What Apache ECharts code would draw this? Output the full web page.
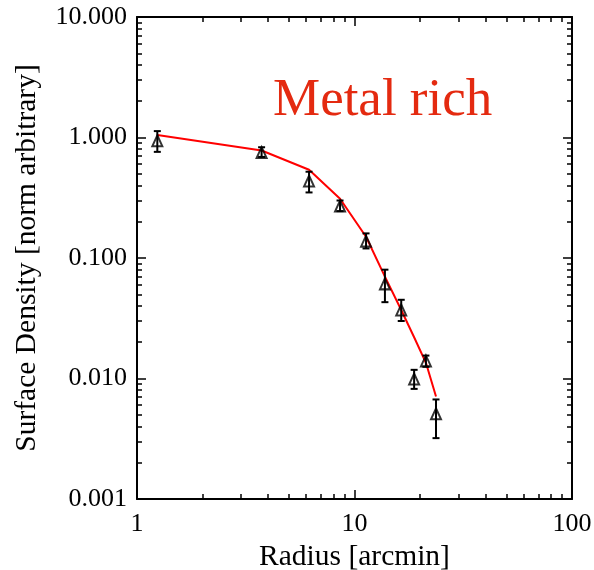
<!DOCTYPE html>
<html>
<head>
<meta charset="utf-8">
<script src="https://cdn.jsdelivr.net/npm/echarts@6/dist/echarts.min.js"></script>
<style>
html,body{margin:0;padding:0;background:#fff;}
#chart{width:594px;height:570px;}
</style>
</head>
<body>
<div id="chart"></div>
<script>
// Data
const radius   = [1.24, 3.74, 6.18, 8.58, 11.3, 13.8, 16.4, 18.8, 21.3, 23.7];
const density  = [0.94, 0.75, 0.435, 0.27, 0.138, 0.061, 0.037, 0.0099, 0.014, 0.0051];
const errLow   = [0.76, 0.69, 0.35, 0.245, 0.12, 0.043, 0.030, 0.0082, 0.0125, 0.0032];
const errHigh  = [1.13, 0.83, 0.52, 0.30, 0.16, 0.080, 0.045, 0.0118, 0.0155, 0.0067];
const model    = [1.05, 0.78, 0.54, 0.31, 0.15, 0.070, 0.037, 0.022, 0.0135, 0.0071];
const xTicks = [1, 10, 100];
const yTicks = [0.001, 0.01, 0.1, 1, 10];

const FONT = 'Liberation Serif';
const chart = echarts.init(document.getElementById('chart'), null, {renderer: 'canvas'});

function xAxisDef(pos, showLabel) {
  return {
    type: 'log', logBase: 10, min: xTicks[0], max: xTicks[xTicks.length - 1],
    position: pos,
    axisLine: {show: true, onZero: false, lineStyle: {color: '#000', width: 2}},
    axisTick: {show: true, inside: true, length: 9, lineStyle: {color: '#000', width: 1.5}},
    minorTick: {show: true, splitNumber: 9, length: 5, lineStyle: {color: '#000', width: 1.5}},
    splitLine: {show: false}, minorSplitLine: {show: false},
    axisLabel: {show: showLabel, color: '#000', fontFamily: FONT, fontSize: 26, margin: 12,
      formatter: v => String(v)},
    name: showLabel ? 'Radius [arcmin]' : '',
    nameLocation: 'middle', nameGap: 32,
    nameTextStyle: {color: '#000', fontFamily: FONT, fontSize: 29.5}
  };
}
function yAxisDef(pos, showLabel) {
  return {
    type: 'log', logBase: 10, min: yTicks[0], max: yTicks[yTicks.length - 1],
    position: pos,
    axisLine: {show: true, onZero: false, lineStyle: {color: '#000', width: 2}},
    axisTick: {show: true, inside: true, length: 9, lineStyle: {color: '#000', width: 1.5}},
    minorTick: {show: true, splitNumber: 9, length: 5, lineStyle: {color: '#000', width: 1.5}},
    splitLine: {show: false}, minorSplitLine: {show: false},
    axisLabel: {show: showLabel, color: '#000', fontFamily: FONT, fontSize: 26, margin: 10,
      formatter: v => Number(v).toFixed(3)},
    name: showLabel ? 'Surface Density [norm arbitrary]' : '',
    nameLocation: 'middle', nameGap: 95, nameRotate: 90,
    nameTextStyle: {color: '#000', fontFamily: FONT, fontSize: 29.5}
  };
}

const obsPts = radius.map((r, i) => [r, density[i]]);
const errPts = radius.map((r, i) => [r, errLow[i], errHigh[i]]);
const modelPts = radius.map((r, i) => [r, model[i]]);

const option = {
  animation: false,
  backgroundColor: '#fff',
  title: {
    text: 'Metal rich', left: 273, top: 75, padding: 0,
    textStyle: {color: '#e42a10', fontFamily: FONT, fontSize: 53, fontWeight: 'normal'}
  },
  grid: {left: 137, right: 22, top: 17, bottom: 71, containLabel: false, outerBoundsMode: 'none'},
  xAxis: [xAxisDef('bottom', true), xAxisDef('top', false)],
  yAxis: [yAxisDef('left', true), yAxisDef('right', false)],
  series: [
    {
      type: 'line', data: modelPts, xAxisIndex: 0, yAxisIndex: 0,
      symbol: 'none', lineStyle: {color: '#ff0000', width: 2}, z: 2
    },
    {
      type: 'custom', data: errPts, xAxisIndex: 0, yAxisIndex: 0, z: 3,
      renderItem: function (params, api) {
        const lo = api.coord([api.value(0), api.value(1)]);
        const hi = api.coord([api.value(0), api.value(2)]);
        const w = 3.5;
        const st = {stroke: '#000', lineWidth: 2};
        return {
          type: 'group',
          children: [
            {type: 'line', shape: {x1: lo[0], y1: lo[1], x2: hi[0], y2: hi[1]}, style: st},
            {type: 'line', shape: {x1: lo[0] - w, y1: lo[1], x2: lo[0] + w, y2: lo[1]}, style: st},
            {type: 'line', shape: {x1: hi[0] - w, y1: hi[1], x2: hi[0] + w, y2: hi[1]}, style: st}
          ]
        };
      }
    },
    {
      type: 'scatter', data: obsPts, xAxisIndex: 0, yAxisIndex: 0, z: 4,
      symbol: 'triangle', symbolSize: [10, 11],
      itemStyle: {color: 'rgba(0,0,0,0)', borderColor: '#000', borderWidth: 2}
    }
  ]
};
chart.setOption(option);
</script>
</body>
</html>
